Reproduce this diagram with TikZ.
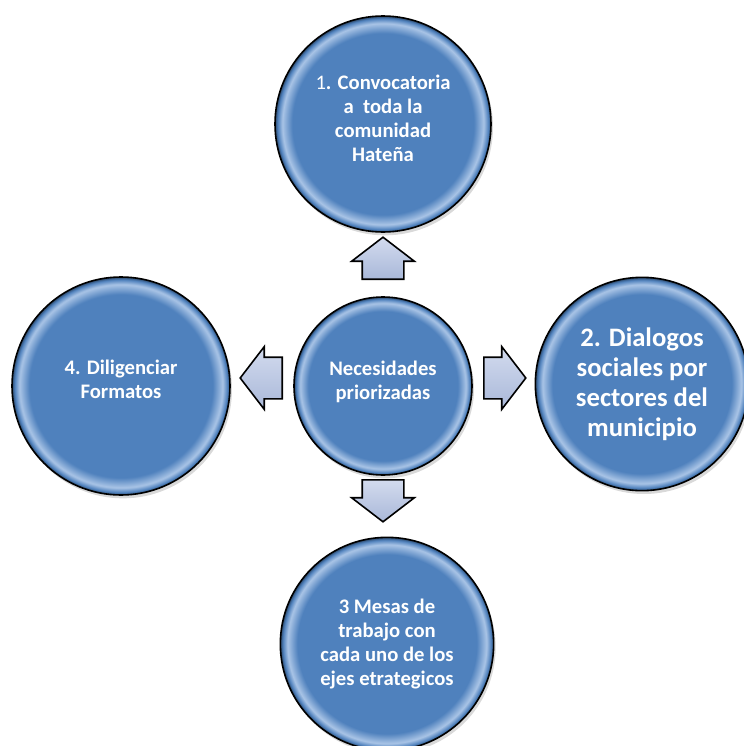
\documentclass[tikz,border=0pt]{standalone}
\usepackage{fontspec}
\setmainfont{Carlito}
\usetikzlibrary{positioning,calc,shapes.arrows,shadows}

\definecolor{discblue}{HTML}{4F81BD}
\definecolor{discrim}{HTML}{A9C4E6}
\definecolor{arrowtop}{HTML}{D3DBEE}
\definecolor{arrowbot}{HTML}{A9B8D9}

\pgfdeclareradialshading{discshade}{\pgfpoint{0bp}{0bp}}{%
  color(0bp)=(discblue); color(21bp)=(discblue); color(23.3bp)=(discrim);
  color(24.4bp)=(discblue); color(25bp)=(discblue!55!black); color(50bp)=(discblue!55!black)}

\tikzset{
  disc/.style={circle, draw=black, line width=1.2pt, shading=discshade, text=white,
    font=\bfseries\fontsize{15.5}{18}\selectfont, align=center, inner sep=0pt,
    drop shadow={opacity=0.3, shadow xshift=1.5pt, shadow yshift=-2.5pt}},
  bigtext/.style={font=\bfseries\fontsize{20}{22.5}\selectfont},
  blockarrow/.style={single arrow, draw=black, line width=1.2pt,
    top color=arrowtop, bottom color=arrowbot,
    minimum height=31.5pt, minimum width=45.75pt, single arrow head extend=7.9pt,
    single arrow tip angle=105, shape border rotate=#1, anchor=tail},
  harrow/.style={blockarrow=#1, inner xsep=0pt, inner ysep=15pt},
  varrow/.style={blockarrow=#1, inner xsep=15pt, inner ysep=0pt}
}

\begin{document}
\begin{tikzpicture}[x=0.75pt, y=-0.75pt]
\useasboundingbox (0,0) rectangle (743,746);

\node[disc, minimum size=133.5pt, text depth=9.3pt] (need) at (383,386)
  {Necesidades\\priorizadas};

% TOP

\node[disc, minimum size=162pt, text depth=9pt] (conv) at (383,124)
  {{\mdseries 1}. Convocatoria\\a\ \ toda la\\comunidad\\Hateña};
\node[varrow=90] (aup) at ($(need)-(0,106)$) {};

% RIGHT

\node[disc, bigtext, minimum size=160pt] (dial) at (642,384)
  {2. Dialogos\\sociales por\\sectores del\\municipio};
\node[harrow=0] (aright) at ($(need)+(100,-8)$) {};

% BOTTOM

\node[disc, minimum size=160pt] (mesas) at (387,644)
  {3 Mesas de\\trabajo con\\cada uno de los\\ejes etrategicos};
\node[varrow=270] (adown) at ($(need)+(0,93)$) {};

% LEFT

\node[disc, minimum size=163.5pt, text depth=10.5pt] (dilig) at (121,386)
  {4. Diligenciar\\Formatos};
\node[harrow=180] (aleft) at ($(need)-(100,8)$) {};

\end{tikzpicture}
\end{document}
